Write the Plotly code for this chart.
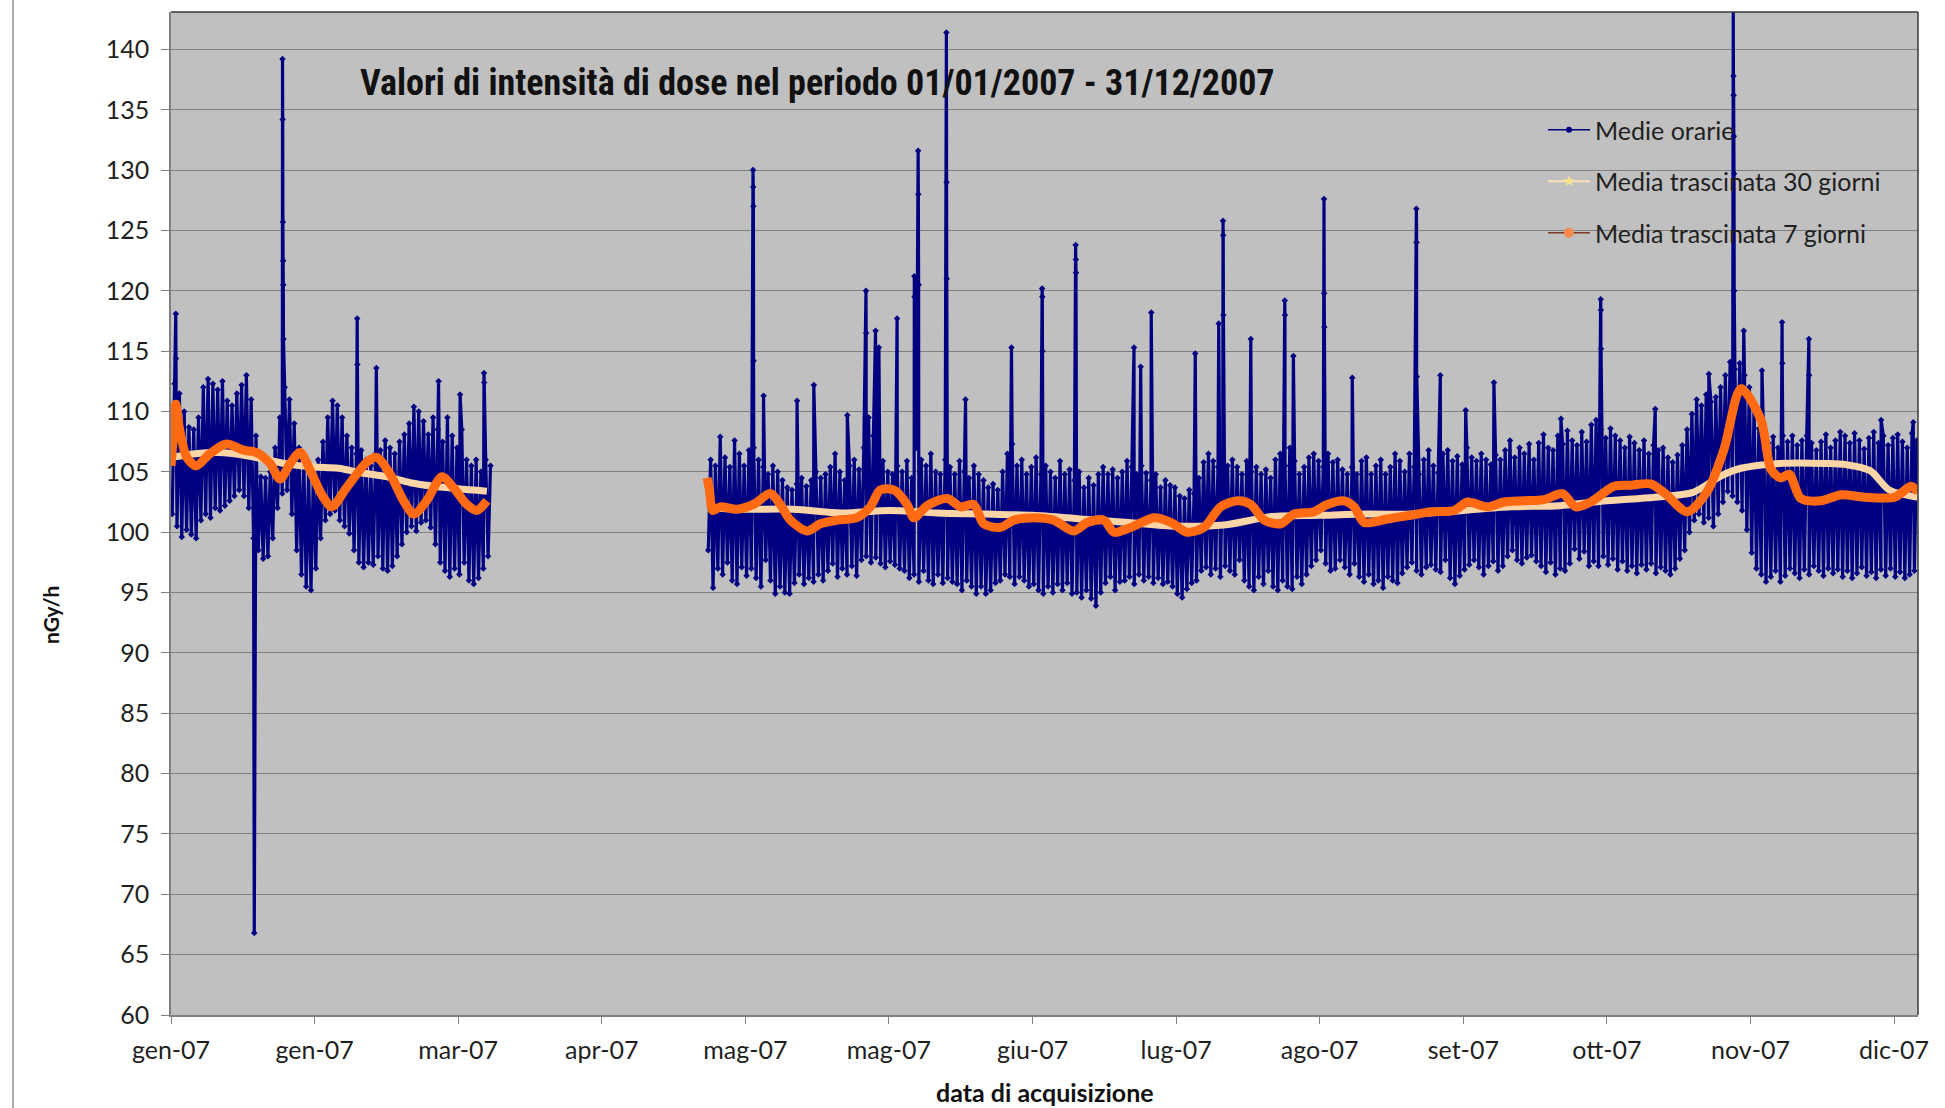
import pandas as pd
import plotly.graph_objects as go

YEAR_START = pd.Timestamp("2007-01-01")

# Hourly means: daily upper / lower envelope of the hourly values (nGy/h)
seg1_first_day = 0
seg1_hi = [112.3, 111.5, 110.0, 108.7, 108.5, 109.5, 112.0, 112.7, 112.3, 111.8,
           112.5, 110.9, 110.5, 111.5, 112.2, 113.0, 111.0, 108.0, 104.6, 104.5,
           105.0, 107.0, 109.5, 112.0, 111.0, 109.0, 107.0, 106.0, 105.0, 104.8,
           106.0, 107.5, 109.5, 110.9, 110.5, 109.5, 108.0, 107.0, 106.5, 106.8,
           106.0, 105.5, 106.5, 106.8, 107.6, 107.0, 106.5, 107.5, 108.1, 109.0,
           110.4, 110.0, 109.2, 108.1, 109.5, 108.5, 107.5, 109.5, 108.0, 107.0,
           108.5, 106.0, 105.5, 106.0, 105.0, 106.0, 105.5]
seg1_lo = [101.5, 100.5, 99.6, 100.2, 99.8, 99.5, 101.0, 101.5, 101.2, 102.0,
           101.8, 102.2, 102.6, 103.0, 103.5, 103.0, 102.0, 99.5, 98.5, 97.8,
           98.0, 99.5, 102.0, 103.2, 103.5, 101.5, 98.5, 96.5, 95.5, 95.2,
           97.0, 99.5, 101.0, 101.5, 101.8, 101.0, 100.5, 99.9, 98.5, 97.5,
           97.1, 97.5, 97.3, 98.0, 97.0, 96.8, 97.2, 98.0, 99.0, 100.0,
           100.5, 100.1, 100.8, 101.0, 100.4, 99.0, 97.5, 96.8, 96.3, 97.0,
           96.5, 97.5, 96.0, 95.7, 96.2, 97.0, 98.0]

seg2_first_day = 112
seg2_hi = [106.0, 105.5, 107.9, 106.2, 105.4, 107.6, 106.5, 105.5, 106.8, 107.0,
           106.0, 105.4, 104.8, 105.5, 105.0, 104.3, 103.7, 103.5, 104.0, 104.5,
           103.8, 104.3, 105.0, 104.5, 104.8, 105.4, 106.5, 105.0, 104.3, 105.5,
           106.0, 105.2, 107.0, 109.5, 108.0, 107.5, 105.9, 105.0, 104.8, 105.5,
           105.0, 105.9, 104.5, 107.0, 106.0, 105.5, 106.5, 105.0, 104.8, 106.0,
           105.4, 104.8, 105.9, 105.0, 104.5, 105.5, 104.8, 104.3, 103.7, 104.0,
           103.5, 105.0, 106.5, 107.3, 105.5, 106.0, 104.8, 105.4, 106.2, 104.8,
           105.5, 105.0, 104.5, 105.9, 104.8, 105.2, 104.3, 105.0, 103.7, 104.5,
           103.9, 104.8, 105.4, 104.8, 105.2, 104.5, 105.0, 105.9, 105.4, 104.8,
           105.5, 104.9, 104.3, 104.8, 103.7, 104.3, 103.9, 103.7, 103.0, 102.8,
           103.5, 103.2, 104.5, 105.8, 106.5, 105.9, 105.4, 106.2, 105.5, 106.0,
           105.4, 104.8, 105.9, 105.0, 105.4, 104.8, 105.2, 104.5, 106.0, 106.5,
           105.5, 107.0, 105.9, 104.8, 105.4, 106.2, 106.5, 105.9, 105.4, 106.5,
           105.8, 106.0, 105.2, 104.8, 105.4, 104.8, 105.9, 106.2, 104.8, 105.5,
           106.0, 104.8, 105.4, 106.5, 105.9, 105.0, 106.5, 105.4, 104.8, 106.0,
           106.8, 105.5, 104.9, 106.5, 106.8, 105.9, 106.3, 105.6, 107.0, 106.2,
           105.9, 106.5, 106.0, 105.6, 106.4, 106.0, 106.8, 107.6, 106.2, 107.0,
           106.5, 107.3, 106.0, 107.4, 108.1, 107.0, 106.8, 108.0, 107.3, 108.4,
           107.6, 107.2, 108.3, 107.5, 108.9, 109.3, 108.5, 107.8, 108.6, 108.0,
           107.6, 107.0, 107.9, 107.4, 106.8, 107.6, 106.5, 107.2, 106.8, 107.0,
           106.2, 105.8, 106.4, 107.2, 108.5, 109.8, 111.0, 110.5, 111.4, 110.8,
           111.2, 112.0, 113.0, 114.1, 113.5, 114.0, 113.0, 112.0, 110.5, 108.6,
           108.0, 107.4, 107.9, 107.0, 108.0, 107.5, 108.0, 107.2, 107.6, 108.0,
           107.4, 106.8, 107.5, 108.1, 107.0, 107.6, 108.3, 108.0, 107.4, 108.2,
           107.6, 106.9, 107.8, 108.3, 107.4, 108.0, 107.2, 107.8, 108.1, 107.5,
           107.0, 108.2, 107.6]
seg2_lo = [98.5, 95.4, 97.0, 96.5, 97.5, 96.0, 95.7, 97.1, 96.4, 97.0,
           96.2, 95.5, 97.7, 96.0, 94.9, 95.5, 95.0, 94.9, 95.8, 96.5,
           95.7, 96.2, 95.9, 96.5, 96.0, 96.8, 97.4, 96.3, 97.0, 96.5,
           97.2, 96.4, 97.7, 98.0, 97.5, 97.9, 97.4, 97.1, 97.6, 97.3,
           97.0, 96.8, 96.2, 96.5, 95.9, 96.8, 96.0, 95.7, 96.5, 95.8,
           96.2, 95.9, 95.7, 95.2, 96.0, 95.5, 94.9, 95.5, 94.9, 95.2,
           95.8, 96.0, 96.5, 96.3, 95.7, 96.3, 96.0, 95.5, 95.7, 95.2,
           94.9, 95.5, 95.0, 95.7, 95.2, 95.8, 94.9, 95.0, 94.6, 95.2,
           94.5, 93.9, 95.0, 95.8, 96.3, 95.2, 95.9, 96.0, 96.3, 95.7,
           96.5, 96.0, 96.3, 95.8, 96.2, 95.7, 95.9, 95.5, 94.9, 94.6,
           95.3, 95.8, 96.0, 96.8, 97.1, 96.5, 97.0, 96.3, 97.2, 96.8,
           96.5, 97.7, 96.0, 95.5, 95.2, 96.3, 95.7, 96.8, 95.5, 95.2,
           96.0, 95.5, 95.3, 96.3, 95.7, 96.5, 97.2, 97.7, 98.5, 97.4,
           96.8, 97.0, 97.7, 97.1, 96.5, 97.4, 96.3, 95.9, 96.5, 95.7,
           96.0, 95.4, 96.3, 96.0, 95.8, 96.6, 97.1, 97.5, 96.8, 96.5,
           97.1, 97.3, 96.9, 96.7, 97.7, 96.2, 95.7, 96.4, 96.9, 97.3,
           97.7, 97.1, 96.5, 97.2, 97.6, 96.8, 97.2, 98.0, 98.5, 97.7,
           97.4, 97.9, 98.1, 97.6, 97.2, 96.7, 97.5, 96.5, 97.0, 96.8,
           97.4, 98.6, 97.8, 98.4, 97.2, 97.6, 97.2, 98.0, 97.3, 97.8,
           96.9, 97.6, 96.8, 97.2, 96.6, 97.3, 96.9, 97.4, 96.6, 97.1,
           96.8, 96.5, 97.0, 97.8, 98.5, 100.0, 101.0, 101.5, 100.8, 101.2,
           100.5, 101.5, 102.5, 103.4, 103.0, 102.5, 101.8, 100.2, 98.3, 97.0,
           96.5, 95.9, 96.3, 96.8, 95.9, 96.4, 97.0, 96.6, 96.2, 96.9,
           96.5, 97.2, 96.8, 96.4, 97.0, 96.6, 96.9, 96.3, 96.8, 96.2,
           96.6, 97.1, 96.4, 96.7, 96.2, 96.9, 96.4, 97.0, 96.3, 96.7,
           96.2, 96.5, 96.8]

# Isolated hourly peaks (day of year, nGy/h)
spike_day = [1.0, 1.04, 17.4, 23.3, 23.34, 23.38, 23.42, 23.46, 23.5,
             38.9, 38.94, 42.9, 55.9, 60.4, 65.4, 65.44,
             121.6, 121.64, 121.68, 121.72, 123.8, 130.8, 134.3, 141.3,
             145.2, 145.24, 147.2, 147.9, 151.7, 155.3, 155.34,
             156.1, 156.14, 156.2, 162.0, 162.04, 162.08, 166.0, 175.6,
             182.0, 182.04, 182.08, 189.0, 189.04, 189.08, 201.2, 202.6, 204.8,
             214.0, 218.9, 219.8, 219.84, 219.88, 225.6, 232.7, 232.74, 234.5,
             240.9, 240.94, 240.98, 246.8, 260.2, 260.24, 260.28, 265.2,
             270.5, 276.4, 290.4, 298.7, 298.74, 298.78, 310.1, 321.3,
             326.4, 326.44, 326.48, 326.52, 326.56, 326.6, 328.6, 332.4,
             336.6, 336.64, 342.2, 342.24, 357.3, 364.0]
spike_val = [118.1, 114.4, 66.8, 139.2, 134.2, 125.7, 122.5, 120.5, 116.0,
             117.7, 113.9, 113.6, 112.5, 111.4, 113.2, 112.4,
             130.0, 128.6, 127.0, 114.2, 111.3, 110.9, 112.2, 109.7,
             120.0, 116.5, 116.7, 115.3, 117.7, 121.2, 119.5,
             131.6, 128.0, 120.5, 141.4, 129.0, 121.0, 111.0, 115.3,
             120.2, 119.5, 115.0, 123.8, 122.6, 121.5, 115.3, 113.7, 118.2,
             114.8, 117.3, 125.8, 124.6, 118.0, 116.0, 119.2, 118.0, 114.6,
             127.6, 119.8, 117.0, 112.8, 126.8, 124.0, 112.9, 113.0,
             110.1, 112.4, 109.4, 119.3, 118.4, 115.2, 110.2, 113.1,
             143.5, 137.8, 136.2, 132.8, 129.7, 120.0, 116.7, 113.4,
             117.4, 114.0, 116.0, 113.0, 109.3, 109.1]

# 7-day moving average (None marks the acquisition gap)
ma7_day = [0.0, 0.6, 1.0, 1.8, 3.3, 5.3, 8.1, 11.6, 15.1, 17.9, 20.7, 22.8,
           24.9, 27.0, 29.1, 31.8, 33.6, 36.7, 40.9, 43.0, 45.8, 48.6, 50.7,
           53.4, 56.6, 59.0, 61.8, 63.9, 66.0, None,
           112.0, 112.5, 113.2, 114.8, 118.2, 121.7, 125.2, 127.3, 129.4, 132.9,
           135.7, 139.2, 143.3, 146.1, 148.2, 151.0, 153.8, 155.2, 158.0, 162.2,
           165.0, 167.7, 169.8, 173.3, 176.1, 180.3, 184.4, 188.6, 191.4, 194.9,
           197.0, 200.5, 205.4, 209.0, 212.3, 215.8, 219.3, 222.8, 225.6, 228.4,
           231.9, 234.6, 238.8, 241.6, 245.1, 247.2, 249.3, 254.1, 259.0, 263.2,
           268.1, 270.9, 275.1, 278.5, 282.7, 286.9, 290.7, 293.5, 296.6, 301.5,
           305.0, 309.1, 311.9, 316.8, 321.0, 324.5, 328.0, 332.2, 334.3, 336.3,
           338.1, 340.5, 344.7, 349.0, 353.8, 360.1, 363.6, 365.0]
ma7_val = [105.5, 108.5, 110.6, 108.5, 106.2, 105.5, 106.5, 107.3, 106.8, 106.6,
           105.7, 104.4, 105.7, 106.6, 105.1, 102.9, 102.1, 103.7, 105.8, 106.2,
           104.8, 102.6, 101.5, 102.6, 104.6, 103.7, 102.3, 101.8, 102.6, None,
           104.5, 103.5, 101.8, 102.1, 101.9, 102.3, 103.2, 102.3, 101.0, 100.1,
           100.7, 101.0, 101.2, 102.1, 103.5, 103.5, 102.3, 101.2, 102.2, 102.8,
           102.1, 102.3, 100.7, 100.4, 101.0, 101.2, 101.0, 100.1, 100.8, 101.0,
           100.0, 100.4, 101.2, 100.8, 100.0, 100.4, 102.1, 102.6, 102.3, 101.0,
           100.7, 101.5, 101.7, 102.3, 102.6, 102.1, 100.8, 101.1, 101.4, 101.7,
           101.8, 102.5, 102.1, 102.5, 102.6, 102.7, 103.2, 102.1, 102.5, 103.8,
           103.9, 104.0, 103.3, 101.7, 103.4, 106.9, 111.9, 109.3, 105.2, 104.5,
           104.8, 102.8, 102.6, 103.1, 102.9, 102.9, 103.8, 103.3]

# 30-day moving average
ma30_day = [0.3, 5, 10, 15, 20, 25, 30, 35, 40, 45, 50, 55, 60, 66, None,
            112.3, 120, 130, 140, 150, 160, 170, 180, 190, 200, 210, 220, 230,
            240, 250, 260, 270, 280, 290, 300, 310, 318, 324, 328, 336, 346,
            350, 355, 359, 365]
ma30_val = [106.2, 106.5, 106.6, 106.4, 106.0, 105.6, 105.4, 105.3, 104.9, 104.6,
            104.1, 103.8, 103.6, 103.4, None,
            102.0, 101.9, 101.9, 101.6, 101.8, 101.6, 101.5, 101.4, 101.1, 100.8,
            100.5, 100.6, 101.3, 101.4, 101.5, 101.5, 101.8, 102.1, 102.2, 102.6,
            102.9, 103.3, 104.7, 105.3, 105.7, 105.7, 105.6, 105.1, 103.5, 102.9]

tick_day = [0, 30, 60, 90, 120, 150, 180, 210, 240, 270, 300, 330, 360]
tick_text = ["gen-07", "gen-07", "mar-07", "apr-07", "mag-07", "mag-07", "giu-07",
             "lug-07", "ago-07", "set-07", "ott-07", "nov-07", "dic-07"]

NAVY = "#000080"
ORANGE = "#FF6A12"
PEACH = "#FBD5A6"
FONT = "Lato, 'Open Sans', sans-serif"
TEXT = "#1f1f1f"


def to_date(days):
    return [None if d is None else YEAR_START + pd.Timedelta(days=d) for d in days]


def hourly_segment(first_day, hi, lo):
    """Zig-zag through the daily low/high values, with the peaks merged in."""
    pts = []
    for i, (h, l) in enumerate(zip(hi, lo)):
        d = first_day + i
        pts.append((d + 0.25, l))
        pts.append((d + 0.75, h))
    last = first_day + len(hi)
    pts += [(d, v) for d, v in zip(spike_day, spike_val) if first_day <= d < last]
    pts.sort()
    return [p[0] for p in pts], [p[1] for p in pts]


t1, v1 = hourly_segment(seg1_first_day, seg1_hi, seg1_lo)
t2, v2 = hourly_segment(seg2_first_day, seg2_hi, seg2_lo)
hour_day = t1 + [None] + t2
hour_val = v1 + [None] + v2

fig = go.Figure()

fig.add_trace(go.Scatter(
    x=to_date(hour_day), y=hour_val, mode="lines+markers",
    line=dict(color=NAVY, width=3.2, simplify=False),
    marker=dict(symbol="diamond", size=5, color=NAVY),
    connectgaps=False, showlegend=False, hoverinfo="skip"))

fig.add_trace(go.Scatter(
    x=to_date(ma30_day), y=ma30_val, mode="lines",
    line=dict(color=PEACH, width=7, shape="spline", smoothing=0.8),
    connectgaps=False, showlegend=False))

fig.add_trace(go.Scatter(
    x=to_date(ma7_day), y=ma7_val, mode="lines",
    line=dict(color=ORANGE, width=9, shape="spline", smoothing=0.8),
    connectgaps=False, showlegend=False))

# Legend entries (thin line + marker, as in the spreadsheet legend)
legend_items = [
    ("Medie orarie", NAVY, 1.5, dict(symbol="circle", size=6, color=NAVY)),
    ("Media trascinata 30 giorni", "#FCE0B8", 2, dict(symbol="star", size=9, color="#F6E48A")),
    ("Media trascinata 7 giorni", "#7A3A22", 1.5, dict(symbol="circle", size=10, color="#F58A4A")),
]
for name, lc, lw, mk in legend_items:
    fig.add_trace(go.Scatter(
        x=[None], y=[None], mode="lines+markers", name=name, legendgroup=name,
        line=dict(color=lc, width=lw), marker=mk))

L, R, T, B = 171, 27, 12, 93
W, H = 1945, 1108
pw, ph = W - L - R, H - T - B


def px_x(x):
    return (x - L) / pw


def px_y(y):
    return (H - B - y) / ph


fig.update_layout(
    width=W, height=H,
    margin=dict(l=L, r=R, t=T, b=B, pad=0),
    paper_bgcolor="white", plot_bgcolor="#C0C0C0",
    font=dict(family=FONT, color=TEXT),
    showlegend=True,
    legend=dict(x=px_x(1543), y=px_y(107), xanchor="left", yanchor="top",
                bgcolor="rgba(0,0,0,0)", borderwidth=0,
                font=dict(family=FONT, size=25, color=TEXT),
                tracegroupgap=16, itemwidth=42),
    xaxis=dict(
        type="date",
        range=[YEAR_START, YEAR_START + pd.Timedelta(days=365)],
        tickmode="array", tickvals=to_date(tick_day), ticktext=tick_text,
        ticks="outside", ticklen=7, tickcolor="#808080", tickwidth=1,
        showgrid=False, zeroline=False,
        showline=True, linecolor="#808080", linewidth=1.5,
        tickfont=dict(family=FONT, size=25, color=TEXT),
        ticklabelstandoff=5,
    ),
    yaxis=dict(
        range=[60, 143.1], tick0=60, dtick=5,
        ticks="outside", ticklen=8, tickcolor="#808080", tickwidth=1,
        showgrid=True, gridcolor="#808080", gridwidth=1.2,
        zeroline=False, showline=True, linecolor="#808080", linewidth=1.5,
        tickfont=dict(family=FONT, size=25, color=TEXT),
        ticklabelstandoff=7,
    ),
    annotations=[
        dict(text="<b>Valori di intensità di dose nel periodo 01/01/2007 - 31/12/2007</b>",
             xref="paper", yref="paper", x=px_x(358), y=px_y(83),
             xanchor="left", yanchor="middle", showarrow=False,
             font=dict(family="'Liberation Sans Narrow', 'Arial Narrow', 'Roboto Condensed', sans-serif",
                       size=36, color="#111")),
        dict(text="<b>nGy/h</b>", xref="paper", yref="paper",
             x=px_x(50), y=px_y(615), textangle=-90, showarrow=False,
             xanchor="center", yanchor="middle",
             font=dict(family=FONT, size=21, color="#111")),
        dict(text="<b>data di acquisizione</b>", xref="paper", yref="paper",
             x=0.5, y=px_y(1092), showarrow=False,
             xanchor="center", yanchor="middle",
             font=dict(family=FONT, size=25, color="#111")),
    ],
    shapes=[
        # top and right edges of the plot frame
        dict(type="line", xref="paper", yref="paper", x0=0, x1=1, y0=1, y1=1,
             line=dict(color="#3a3a3a", width=1.5)),
        dict(type="line", xref="paper", yref="paper", x0=1, x1=1, y0=0, y1=1,
             line=dict(color="#3a3a3a", width=1.5)),
        # outer chart border on the left
        dict(type="line", xref="paper", yref="paper", x0=px_x(13), x1=px_x(13),
             y0=px_y(0), y1=px_y(H), line=dict(color="#909090", width=1.5)),
    ],
)

fig.write_html("out.html")
